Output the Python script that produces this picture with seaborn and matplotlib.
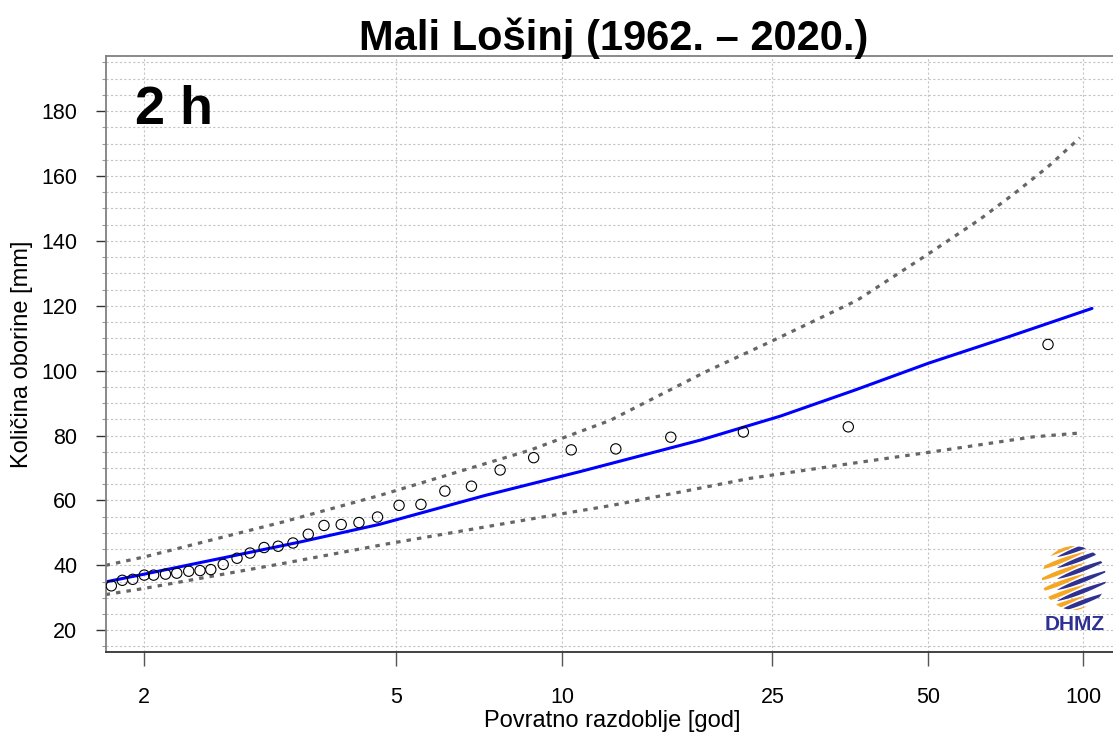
import numpy as np
import pandas as pd
import matplotlib
matplotlib.use("Agg")
import matplotlib.pyplot as plt
import seaborn as sns
from matplotlib.ticker import FixedLocator, MultipleLocator, NullLocator
from matplotlib.patches import Circle, Polygon

# ======================================
# DATA
# ======================================
# observed annual maxima: return period [god] and amount [mm]
obs_T = [1.81, 1.87, 1.93, 2.00, 2.06, 2.14, 2.22, 2.31, 2.40, 2.49, 2.60,
         2.73, 2.86, 3.01, 3.17, 3.35, 3.55, 3.77, 4.03, 4.32, 4.65, 5.07,
         5.54, 6.11, 6.82, 7.69, 8.86, 10.4, 12.6, 16.0, 22.0, 35.0, 85.4]
obs_mm = [33.7, 35.4, 35.7, 37.0, 37.0, 37.3, 37.6, 38.2, 38.4, 38.7, 40.3,
          42.2, 43.8, 45.5, 45.9, 46.9, 49.6, 52.3, 52.6, 53.2, 54.9, 58.5,
          58.8, 62.9, 64.4, 69.4, 73.2, 75.6, 75.9, 79.5, 81.1, 82.7, 108.1]

# fitted distribution
fit_T = [1.78, 2.0, 3.44, 4.70, 7.2, 10.8, 18.2, 25.9, 36.0, 50.0, 72.0, 104.0]
fit_mm = [34.9, 37.3, 47.2, 52.7, 61.5, 68.9, 78.6, 86.0, 94.0, 102.3, 110.6, 119.2]

# confidence band
upper_T = [1.78, 2.0, 3.23, 4.70, 8.72, 12.3, 18.6, 25.0, 36.4, 50.0, 63.0,
           73.0, 85.3, 98.5]
upper_mm = [40.0, 42.6, 53.4, 61.6, 75.5, 84.7, 99.6, 109.2, 121.7, 136.0,
            146.7, 154.3, 162.8, 171.8]
lower_T = [1.78, 2.0, 3.23, 4.79, 6.16, 8.83, 12.4, 22.6, 33.7, 50.4, 79.8, 98.5]
lower_mm = [31.0, 32.9, 40.6, 46.5, 49.8, 54.4, 58.5, 66.8, 70.9, 74.9, 79.6, 80.8]

x_ticks = [2, 5, 10, 25, 50, 100]
y_ticks = [20, 40, 60, 80, 100, 120, 140, 160, 180]

TITLE = "Mali Lošinj (1962. – 2020.)"
DURATION = "2 h"


# Gumbel reduced variate as x scale
def gumbel(T):
    T = np.asarray(T, dtype=float)
    with np.errstate(divide="ignore", invalid="ignore"):
        return -np.log(-np.log(1.0 - 1.0 / T))


def gumbel_inv(y):
    y = np.asarray(y, dtype=float)
    with np.errstate(over="ignore", divide="ignore", invalid="ignore"):
        return 1.0 / (1.0 - np.exp(-np.exp(-y)))


# ======================================
# PLOT
# ======================================
sns.set_theme(style="white")
plt.rcParams["font.family"] = ["Liberation Sans", "DejaVu Sans"]
plt.rcParams["text.color"] = "black"
plt.rcParams["axes.labelcolor"] = "black"

fig = plt.figure(figsize=(11.13, 7.32), dpi=100)
ax = fig.add_axes([106 / 1113, 80 / 732, 1007 / 1113, 596 / 732])
ax.set_xscale("function", functions=(gumbel, gumbel_inv))

grid_kw = dict(color="#c4c4c4", linestyle=(0, (2, 2)), linewidth=0.8)
ax.grid(which="major", axis="both", **grid_kw)
ax.grid(which="minor", axis="y", **grid_kw)
ax.set_axisbelow(True)

dot_style = (0, (1.4, 1.9))
sns.lineplot(x=upper_T, y=upper_mm, ax=ax, color="#666666", linewidth=2.3,
             linestyle=dot_style, estimator=None, sort=True)
sns.lineplot(x=lower_T, y=lower_mm, ax=ax, color="#666666", linewidth=2.3,
             linestyle=dot_style, estimator=None, sort=True)
sns.lineplot(x=fit_T, y=fit_mm, ax=ax, color="#0000ff", linewidth=2.2,
             estimator=None, sort=True)
sns.scatterplot(x=obs_T, y=obs_mm, ax=ax, s=55, facecolor="none",
                edgecolor="black", linewidth=0.8, zorder=5)

ax.set_xlim(1.782, 114.3)
ax.set_ylim(13.3, 197.0)

ax.xaxis.set_major_locator(FixedLocator(x_ticks))
ax.xaxis.set_minor_locator(NullLocator())
ax.set_xticklabels([str(t) for t in x_ticks])
ax.yaxis.set_major_locator(FixedLocator(y_ticks))
ax.yaxis.set_minor_locator(MultipleLocator(5))

ax.tick_params(axis="x", which="major", bottom=True, length=10, width=1,
               color="#555555", pad=15.5, labelsize=15.5, labelcolor="black")
ax.tick_params(axis="y", which="major", left=True, length=7.2, width=1,
               color="#333333", pad=13.5, labelsize=15.5, labelcolor="black")
ax.tick_params(axis="y", which="minor", left=True, length=3, width=0.8,
               color="#999999")

for side in ["left", "top"]:
    ax.spines[side].set_color("#808080")
    ax.spines[side].set_linewidth(1.3)
ax.spines["bottom"].set_color("#333333")
ax.spines["bottom"].set_linewidth(1.3)
ax.spines["right"].set_visible(False)

ax.set_xlabel("Povratno razdoblje [god]", fontsize=17)
ax.set_ylabel("Količina oborine [mm]", fontsize=17)
ax.xaxis.set_label_coords(0.5025, -0.097)
ax.yaxis.set_label_coords(-0.0725, 0.5)

ax.text(0.0288, 0.886, DURATION, transform=ax.transAxes, fontsize=39,
        fontweight="bold", ha="left", va="baseline")

fig.text(614 / 1113, 1 - 50 / 732, TITLE, ha="center", va="baseline",
         fontsize=30, fontweight="bold")

# DHMZ logo (approximation)
logo = fig.add_axes([1035 / 1113, 1 - 636 / 732, 77 / 1113, 95 / 732])
logo.set_xlim(0, 77)
logo.set_ylim(95, 0)
logo.axis("off")
clip = Circle((39, 37), 32, transform=logo.transData, facecolor="none",
              edgecolor="none")
logo.add_patch(clip)
for k in range(7):
    y0 = 4 + k * 11
    for x_a, x_b, dy, col in [(2, 52, 0, "#f5a623"), (22, 78, 5.5, "#2e3192")]:
        xs = np.linspace(x_a, x_b, 30)
        t = (xs - x_a) / (x_b - x_a)
        yc = y0 + dy + 0.38 * (39 - xs)
        half = 2.4 * np.sin(np.pi * t ** 0.8)
        pts = np.concatenate([np.c_[xs, yc - half], np.c_[xs[::-1], (yc + half)[::-1]]])
        poly = Polygon(pts, closed=True, facecolor=col, edgecolor="none")
        logo.add_patch(poly)
        poly.set_clip_path(clip)
logo.text(39.5, 84, "DHMZ", ha="center", va="center", fontsize=15,
          fontweight="bold", color="#2e3192")

fig.savefig("out.png", dpi=100)
